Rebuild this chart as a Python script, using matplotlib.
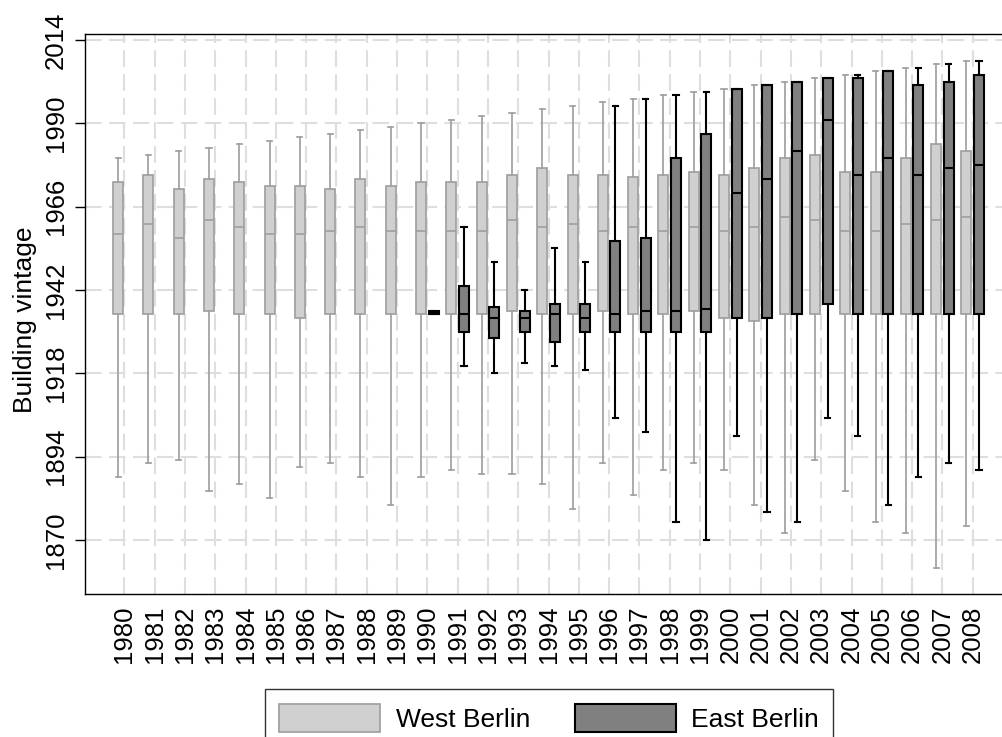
import matplotlib
matplotlib.use("Agg")
import matplotlib.pyplot as plt
from matplotlib.patches import Patch

plt.rcParams['font.family'] = ['Liberation Sans', 'DejaVu Sans']

# ---- data ----
years = list(range(1980, 2009))

# West Berlin, 1980-2008
west_lo = [1888, 1892, 1893, 1884, 1886, 1882, 1891, 1892, 1888, 1880,
           1888, 1890, 1889, 1889, 1886, 1879, 1892, 1883, 1890, 1892,
           1890, 1880, 1872, 1893, 1884, 1875, 1872, 1862, 1874]
west_q1 = [1935, 1935, 1935, 1936, 1935, 1935, 1934, 1935, 1935, 1935,
           1935, 1935, 1935, 1936, 1935, 1935, 1936, 1935, 1935, 1936,
           1934, 1933, 1935, 1935, 1935, 1935, 1935, 1935, 1935]
west_med = [1958, 1961, 1957, 1962, 1960, 1958, 1958, 1959, 1960, 1959,
            1959, 1959, 1959, 1962, 1960, 1961, 1959, 1960, 1959, 1960,
            1959, 1960, 1963, 1962, 1959, 1959, 1961, 1962, 1963]
west_q3 = [1973, 1975, 1971, 1974, 1973, 1972, 1972, 1971, 1974, 1972,
           1973, 1973, 1973, 1975, 1977, 1975, 1975, 1974.5, 1975, 1976,
           1975, 1977, 1980, 1981, 1976, 1976, 1980, 1984, 1982]
west_hi = [1980, 1981, 1982, 1983, 1984, 1985, 1986, 1987, 1988, 1989,
           1990, 1991, 1992, 1993, 1994, 1995, 1996, 1997, 1998, 1999,
           2000, 2001, 2002, 2003, 2004, 2005, 2006, 2007, 2008]

# East Berlin, 1990-2008
east_years = list(range(1990, 2009))
east_lo = [1935, 1920, 1918, 1921, 1920, 1919, 1905, 1901, 1875, 1870,
           1900, 1878, 1875, 1905, 1900, 1880, 1888, 1892, 1890]
east_q1 = [1935, 1930, 1928, 1930, 1927, 1930, 1930, 1930, 1930, 1930,
           1934, 1934, 1935, 1938, 1935, 1935, 1935, 1935, 1935]
east_med = [1935.5, 1935, 1934, 1934, 1935, 1934, 1935, 1936, 1936, 1936.4,
            1970, 1974, 1982, 1991, 1975, 1980, 1975, 1977, 1978]
east_q3 = [1936, 1943, 1937, 1936, 1938, 1938, 1956, 1957, 1980, 1987,
           2000, 2001, 2002, 2003, 2003, 2005, 2001, 2002, 2004]
east_hi = [1936, 1960, 1950, 1942, 1954, 1950, 1995, 1997, 1998, 1999,
           2000, 2001, 2002, 2003, 2004, 2005, 2006, 2007, 2008]

yticks = [1870, 1894, 1918, 1942, 1966, 1990, 2014]

W_FILL, W_EDGE = '#d0d0d0', '#a0a0a0'
E_FILL, E_EDGE = '#808080', '#000000'


def make_stats(lo, q1, med, q3, hi):
    return [dict(whislo=a, q1=b, med=c, q3=d, whishi=e, fliers=[])
            for a, b, c, d, e in zip(lo, q1, med, q3, hi)]


def draw(ax, stats, pos, fill, edge, lw):
    ax.bxp(stats, positions=pos, widths=0.33, capwidths=0.17,
           patch_artist=True, showfliers=False, manage_ticks=False,
           boxprops=dict(facecolor=fill, edgecolor=edge, linewidth=lw),
           medianprops=dict(color=edge, linewidth=lw),
           whiskerprops=dict(color=edge, linewidth=lw),
           capprops=dict(color=edge, linewidth=lw))


fig = plt.figure(figsize=(10.03, 7.37), dpi=100)
ax = fig.add_axes([85 / 1003, 1 - 594 / 737, 918 / 1003, (594 - 33.7) / 737])

off = 0.208
west_pos = [years.index(y) - off for y in years]
east_pos = [years.index(y) + off for y in east_years]

draw(ax, make_stats(west_lo, west_q1, west_med, west_q3, west_hi),
     west_pos, W_FILL, W_EDGE, 1.25)
draw(ax, make_stats(east_lo, east_q1, east_med, east_q3, east_hi),
     east_pos, E_FILL, E_EDGE, 1.5)

ax.set_xlim(-1.3, 29.0)
ax.set_ylim(1854.4, 2015.8)
ax.set_xticks(range(len(years)))
ax.set_xticklabels([str(y) for y in years], rotation=90)
ax.set_yticks(yticks)
ax.set_yticklabels([str(y) for y in yticks], rotation=90, va='center')
ax.tick_params(axis='x', length=0, pad=8.5, labelsize=18.5)
ax.tick_params(axis='y', length=7.2, width=1.0, pad=5, labelsize=18.5)

ax.grid(True, color='#dedede', linewidth=1.5, linestyle=(0, (8, 3.5)))
ax.set_axisbelow(True)

for s in ['left', 'bottom', 'top']:
    ax.spines[s].set_linewidth(1.0)
    ax.spines[s].set_color('black')
ax.spines['right'].set_visible(False)

ax.set_ylabel('Building vintage', fontsize=19)
ax.yaxis.set_label_coords(-0.052, 0.49)

handles = [Patch(facecolor=W_FILL, edgecolor=W_EDGE, linewidth=1.25),
           Patch(facecolor=E_FILL, edgecolor=E_EDGE, linewidth=1.5)]
leg = fig.legend(handles, ['West Berlin', 'East Berlin'], loc='upper center',
                 bbox_to_anchor=(549 / 1003, 1 - 689 / 737), ncol=2,
                 fontsize=19, frameon=True, fancybox=False, framealpha=1,
                 edgecolor='#333333', handlelength=3.83, handleheight=1.3,
                 handletextpad=0.57, columnspacing=1.7, borderpad=0.55,
                 borderaxespad=0)
leg.get_frame().set_linewidth(1.0)

fig.savefig('out.png', dpi=100)
